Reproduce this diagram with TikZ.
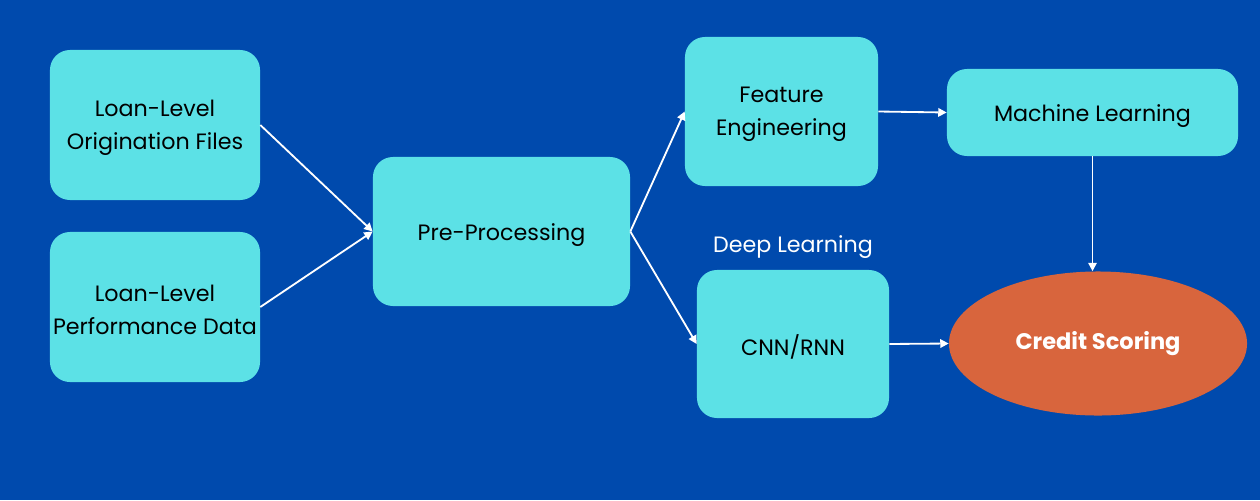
\documentclass[tikz,border=0pt]{standalone}
\usepackage{fontspec}
\setmainfont{Poppins}
\usetikzlibrary{arrows.meta,shapes.geometric}
\definecolor{bg}{RGB}{0,74,173}
\definecolor{boxc}{RGB}{92,225,230}
\definecolor{ellc}{RGB}{216,101,61}
\tikzset{
  x=0.025cm, y=-0.025cm,
  box/.style={draw=none, fill=boxc, rounded corners=0.5cm, inner sep=0pt},
  lbl/.style={align=center, text=black, font=\fontsize{15.8}{23.5}\selectfont, inner sep=0pt},
  conn/.style={draw=white, line width=1.3pt, -{Triangle[length=6pt,width=6pt]}},
}
\begin{document}
\begin{tikzpicture}
\fill[bg] (0,0) rectangle (1260,500);
\useasboundingbox (0,0) rectangle (1260,500);
\node[box, minimum width=5.25cm, minimum height=3.75cm] (orig) at (155,125) {};
\node[box, minimum width=5.25cm, minimum height=3.75cm] (perf) at (155,307) {};
\node[box, minimum width=6.425cm, minimum height=3.725cm] (pre) at (501.5,231.5) {};
\node[box, minimum width=4.825cm, minimum height=3.725cm] (fe) at (781.5,111.5) {};
\node[box, minimum width=7.275cm, minimum height=2.175cm] (ml) at (1092.5,112.5) {};
\node[box, minimum width=4.8cm, minimum height=3.7cm] (cnn) at (793,344) {};
\node[lbl] (origT) at ([yshift=-0.08cm]orig.center) {Loan-Level\\Origination Files};
\node[lbl] (perfT) at ([yshift=-0.08cm]perf.center) {Loan-Level\\Performance Data};
\node[lbl] (preT) at ([yshift=-0.08cm]pre.center) {Pre-Processing};
\node[lbl] (feT) at ([yshift=-0.08cm]fe.center) {Feature\\Engineering};
\node[lbl] (mlT) at ([yshift=-0.08cm]ml.center) {Machine Learning};
\node[lbl] (cnnT) at ([yshift=-0.08cm]cnn.center) {CNN/RNN};
\node[text=white, font=\fontsize{15.8}{19}\selectfont] (dl) at (793,247.5) {Deep Learning};
\node[ellipse, fill=ellc, minimum width=7.45cm, minimum height=3.6cm, inner sep=0pt,
  text=white, font=\fontsize{16}{19}\selectfont\bfseries] (cs) at (1098,343.5) {Credit Scoring};
\draw[conn] (orig.east) -- (pre.west);
\draw[conn] (perf.east) -- (pre.west);
\draw[conn] (pre.east) -- (fe.west);
\draw[conn] (pre.east) -- (cnn.west);
\draw[conn] (fe.east) -- (ml.west);
\draw[conn] (ml.south) -- (ml.south |- cs.north);
\draw[conn] (cnn.east) -- (cs.west);
\end{tikzpicture}
\end{document}
